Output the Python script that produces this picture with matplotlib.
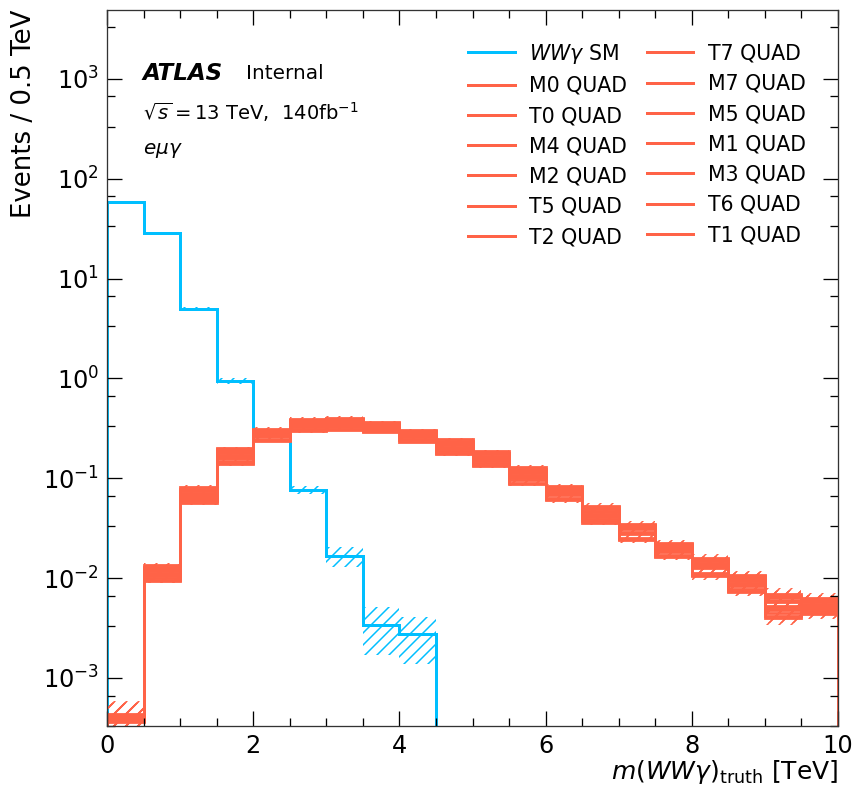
import matplotlib.pyplot as plt
import numpy as np
from matplotlib.lines import Line2D
from matplotlib.ticker import FixedLocator, LogLocator, MultipleLocator, NullFormatter

plt.rcParams['hatch.linewidth'] = 1.5

# binning in m(WWy) [TeV]
bin_edges = np.linspace(0, 10, 21)

# SM WWy prediction and its stat uncertainty
sm_values = [58.0, 28.6, 5.0, 0.94, 0.27, 0.0764, 0.0166, 0.0034, 0.00275,
             0, 0, 0, 0, 0, 0, 0, 0, 0, 0, 0]
sm_errors = [0.9, 0.6, 0.25, 0.06, 0.02, 0.0075, 0.0037, 0.0017, 0.00137,
             0, 0, 0, 0, 0, 0, 0, 0, 0, 0, 0]

# EFT quadratic terms (legend order)
eft_names = ["M0", "T0", "M4", "M2", "T5", "T2", "T7",
             "M7", "M5", "M1", "M3", "T6", "T1"]
eft_M0 = [4.1e-4, 0.0118, 0.070, 0.180, 0.290, 0.360, 0.370, 0.340, 0.280, 0.215,
          0.165, 0.112, 0.075, 0.046, 0.031, 0.0200, 0.0140, 0.0093, 0.0058, 0.0055]
eft_T0 = [3.9e-4, 0.0105, 0.064, 0.160, 0.265, 0.330, 0.345, 0.320, 0.262, 0.200,
          0.152, 0.104, 0.069, 0.042, 0.028, 0.0185, 0.0128, 0.0086, 0.0049, 0.0050]
eft_M4 = [4.3e-4, 0.0130, 0.078, 0.195, 0.305, 0.385, 0.395, 0.355, 0.298, 0.235,
          0.180, 0.125, 0.081, 0.051, 0.034, 0.0220, 0.0155, 0.0104, 0.0066, 0.0061]
eft_M2 = [4.0e-4, 0.0112, 0.067, 0.172, 0.275, 0.345, 0.355, 0.330, 0.270, 0.207,
          0.158, 0.108, 0.072, 0.044, 0.029, 0.0192, 0.0133, 0.0089, 0.0052, 0.0053]
eft_T5 = [3.7e-4, 0.0096, 0.059, 0.142, 0.242, 0.305, 0.315, 0.300, 0.240, 0.180,
          0.136, 0.090, 0.062, 0.037, 0.0245, 0.0168, 0.0108, 0.0075, 0.0042, 0.0045]
eft_T2 = [4.2e-4, 0.0125, 0.074, 0.188, 0.300, 0.375, 0.385, 0.350, 0.292, 0.228,
          0.175, 0.120, 0.079, 0.049, 0.033, 0.0213, 0.0150, 0.0100, 0.0064, 0.0060]
eft_T7 = [3.8e-4, 0.0100, 0.061, 0.150, 0.250, 0.315, 0.325, 0.305, 0.248, 0.188,
          0.142, 0.095, 0.064, 0.039, 0.0255, 0.0172, 0.0113, 0.0078, 0.0045, 0.0047]
eft_M7 = [4.4e-4, 0.0135, 0.081, 0.200, 0.315, 0.395, 0.405, 0.365, 0.305, 0.245,
          0.186, 0.130, 0.084, 0.053, 0.035, 0.0226, 0.0160, 0.0107, 0.0069, 0.0063]
eft_M5 = [4.0e-4, 0.0110, 0.066, 0.168, 0.270, 0.340, 0.350, 0.325, 0.266, 0.203,
          0.155, 0.106, 0.071, 0.043, 0.0285, 0.0190, 0.0131, 0.0088, 0.0051, 0.0052]
eft_M1 = [4.1e-4, 0.0120, 0.071, 0.183, 0.293, 0.365, 0.375, 0.343, 0.284, 0.219,
          0.168, 0.115, 0.076, 0.047, 0.0315, 0.0204, 0.0143, 0.0095, 0.0060, 0.0057]
eft_M3 = [3.9e-4, 0.0108, 0.063, 0.158, 0.262, 0.328, 0.340, 0.316, 0.258, 0.196,
          0.149, 0.101, 0.068, 0.041, 0.0275, 0.0182, 0.0125, 0.0084, 0.0048, 0.0049]
eft_T6 = [4.2e-4, 0.0127, 0.076, 0.192, 0.302, 0.380, 0.390, 0.352, 0.295, 0.231,
          0.177, 0.122, 0.080, 0.050, 0.0335, 0.0216, 0.0152, 0.0102, 0.0065, 0.0060]
eft_T1 = [3.6e-4, 0.0094, 0.057, 0.138, 0.236, 0.296, 0.305, 0.292, 0.233, 0.174,
          0.132, 0.087, 0.060, 0.036, 0.0238, 0.0164, 0.0105, 0.0073, 0.0040, 0.0044]
# relative MC stat uncertainty per bin (same for all operators)
eft_rel_err = [0.35, 0.06, 0.05, 0.04, 0.03, 0.03, 0.03, 0.03, 0.03, 0.035,
               0.04, 0.045, 0.05, 0.06, 0.06, 0.07, 0.08, 0.10, 0.15, 0.12]

eft_values = [eft_M0, eft_T0, eft_M4, eft_M2, eft_T5, eft_T2, eft_T7,
              eft_M7, eft_M5, eft_M1, eft_M3, eft_T6, eft_T1]

sm_color = "deepskyblue"
eft_color = "tomato"

fig = plt.figure(figsize=(855 / 72, 788 / 72), dpi=72)
ax = fig.add_axes([107 / 855, 1 - 726 / 788, 731 / 855, 716 / 788])

# SM histogram + hatched uncertainty
sm = np.array(sm_values)
sm_err = np.array(sm_errors)
n_sm = int(np.count_nonzero(sm))
ax.stairs(sm[:n_sm] + sm_err[:n_sm], bin_edges[:n_sm + 1], baseline=sm[:n_sm] - sm_err[:n_sm],
          fill=True, hatch='//', facecolor='none', edgecolor=sm_color, linewidth=0)
ax.stairs(sm, bin_edges, baseline=0, color=sm_color, linewidth=3)

# EFT histograms
rel = np.array(eft_rel_err)
for vals in eft_values:
    v = np.array(vals)
    ax.stairs(v * (1 + rel), bin_edges, baseline=v * (1 - rel), fill=True, hatch='//',
              facecolor='none', edgecolor=eft_color, linewidth=0)
    ax.stairs(v, bin_edges, baseline=0, color=eft_color, linewidth=2.8)

ax.set_yscale('log')
ax.set_xlim(0, 10)
ax.set_ylim(3.3e-4, 4.9e3)

ax.xaxis.set_major_locator(MultipleLocator(2))
ax.xaxis.set_minor_locator(MultipleLocator(0.5))
ax.yaxis.set_major_locator(FixedLocator(10.0 ** np.arange(-3, 4)))
ax.yaxis.set_minor_locator(LogLocator(base=10, subs=(10 / 3, 20 / 3), numticks=100))
ax.yaxis.set_minor_formatter(NullFormatter())

ax.tick_params(which='both', direction='in', top=True, right=True, labelsize=24)
ax.tick_params(which='major', length=15, width=1.3)
ax.tick_params(which='minor', length=8, width=1.3)
ax.tick_params(axis='x', pad=8)
ax.tick_params(axis='y', pad=8)
for sp in ax.spines.values():
    sp.set_linewidth(1.3)
    sp.set_color('#333333')

ax.set_ylabel('Events / 0.5 TeV', fontsize=26, loc='top', labelpad=6)
ax.set_xlabel(r'$m(WW\gamma)_{\mathrm{truth}}$ [TeV]', fontsize=25, loc='right', labelpad=0)

# ATLAS label
ax.text(0.049, 0.912, 'ATLAS', transform=ax.transAxes, fontsize=23, fontweight='bold',
        fontstyle='italic', va='center')
ax.text(0.190, 0.912, 'Internal', transform=ax.transAxes, fontsize=20, va='center')
ax.text(0.049, 0.858, r'$\sqrt{s}=13$ TeV,  140fb$^{-1}$', transform=ax.transAxes,
        fontsize=19.5, va='center')
ax.text(0.049, 0.804, r'$e\mu\gamma$', transform=ax.transAxes, fontsize=20, va='center')

# legend
handles = [Line2D([], [], color=sm_color, linewidth=3)]
labels = [r'$WW\gamma$ SM']
for name in eft_names:
    handles.append(Line2D([], [], color=eft_color, linewidth=3))
    labels.append(f'{name} QUAD')
ax.legend(handles, labels, ncol=2, frameon=False, fontsize=20.5, loc='upper right',
          bbox_to_anchor=(0.956, 0.956), borderaxespad=0, borderpad=0,
          handlelength=2.25, handletextpad=0.7, columnspacing=1.0, labelspacing=0.5)

fig.savefig('out.png', dpi=72)
